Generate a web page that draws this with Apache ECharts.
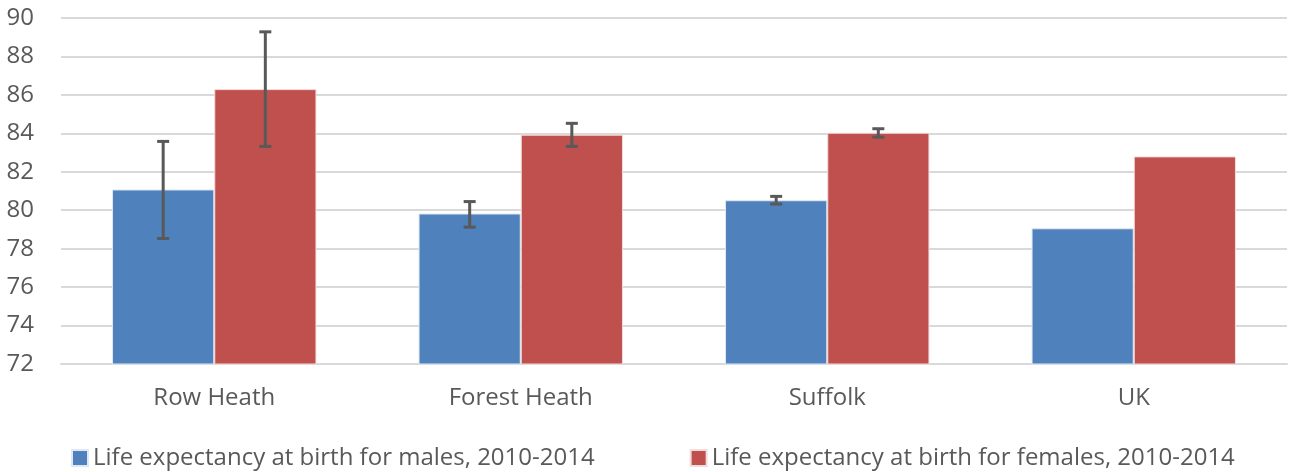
<!DOCTYPE html>
<html>
<head>
<meta charset="utf-8">
<style>
  html, body { margin: 0; padding: 0; background: #fff; }
  #chart { width: 1289px; height: 472px; }
</style>
<script src="https://cdn.jsdelivr.net/npm/echarts@6/dist/echarts.min.js"></script>
</head>
<body>
<div id="chart"></div>
<script>
var categories = ["Row Heath", "Forest Heath", "Suffolk", "UK"];
var maleValues = [81.08, 79.83, 80.52, 79.06];
var femaleValues = [86.3, 83.93, 84.03, 82.8];
// [low, high] confidence intervals, null where none shown
var maleErrors = [[78.53, 83.58], [79.12, 80.45], [80.32, 80.72], null];
var femaleErrors = [[83.32, 89.28], [83.32, 84.52], [83.8, 84.24], null];
var seriesNames = [
  "Life expectancy at birth for males, 2010-2014",
  "Life expectancy at birth for females, 2010-2014"
];

var chart = echarts.init(document.getElementById("chart"));

function errorData(errs) {
  var out = [];
  errs.forEach(function(e, i) {
    if (e) out.push([i, e[0], e[1]]);
  });
  return out;
}

function errorSeries(errs, side) {
  return {
    type: "custom",
    silent: true,
    z: 10,
    renderItem: function(params, api) {
      var idx = api.value(0);
      var band = api.size([1, 0])[0];
      var barW = band * (2 / 3) / 2;
      var lo = api.coord([idx, api.value(1)]);
      var hi = api.coord([idx, api.value(2)]);
      var x = lo[0] + side * barW / 2;
      var cap = 6;
      var style = { stroke: "#595959", lineWidth: 3 };
      return {
        type: "group",
        children: [
          { type: "line", shape: { x1: x, y1: hi[1], x2: x, y2: lo[1] }, style: style },
          { type: "line", shape: { x1: x - cap, y1: hi[1], x2: x + cap, y2: hi[1] }, style: style },
          { type: "line", shape: { x1: x - cap, y1: lo[1], x2: x + cap, y2: lo[1] }, style: style }
        ]
      };
    },
    data: errorData(errs)
  };
}

chart.setOption({
  animation: false,
  grid: {
    top: 18,
    left: 61,
    right: 2,
    bottom: 108,
    containLabel: false
  },
  legend: {
    top: 441,
    left: 66,
    itemWidth: 16,
    itemHeight: 16,
    itemGap: 95,
    icon: "rect",
    textStyle: {
      fontFamily: "Open Sans",
      fontSize: 24,
      color: "#595959"
    },
    data: seriesNames
  },
  xAxis: {
    type: "category",
    data: categories,
    axisTick: { show: false },
    axisLine: { lineStyle: { color: "#d9d9d9", width: 2 } },
    axisLabel: {
      fontFamily: "Open Sans",
      fontSize: 24,
      color: "#595959",
      margin: 22
    }
  },
  yAxis: {
    type: "value",
    min: 72,
    max: 90,
    interval: 2,
    axisLine: { show: false },
    axisTick: { show: false },
    splitLine: { lineStyle: { color: "#d9d9d9", width: 2 } },
    axisLabel: {
      fontFamily: "Open Sans",
      fontSize: 24,
      color: "#595959",
      margin: 27
    }
  },
  series: [
    {
      name: seriesNames[0],
      type: "bar",
      barGap: "0%",
      barCategoryGap: "33.3%",
      data: maleValues,
      itemStyle: { color: "#4f81bd", borderColor: "#dfe8f3", borderWidth: 1 }
    },
    {
      name: seriesNames[1],
      type: "bar",
      data: femaleValues,
      itemStyle: { color: "#c0504d", borderColor: "#f2dcdb", borderWidth: 1 }
    },
    errorSeries(maleErrors, -1),
    errorSeries(femaleErrors, 1)
  ]
});
</script>
</body>
</html>
